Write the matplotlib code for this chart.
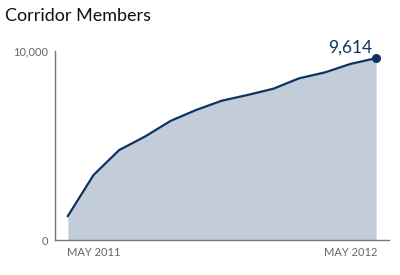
import matplotlib
matplotlib.use("Agg")
import matplotlib.pyplot as plt

months = list(range(13))
members = [1270, 3440, 4760, 5470, 6300, 6880, 7370, 7670, 8000, 8550, 8860, 9310, 9614]
x_labels = ["MAY 2011", "MAY 2012"]
y_ticks = [0, 10000]
y_tick_labels = ["0", "10,000"]

navy = "#0d3364"
fill = "#c2cdd9"
grey = "#666666"

plt.rcParams["font.family"] = ["Lato", "DejaVu Sans"]

fig = plt.figure(figsize=(4, 2.75), dpi=100)
ax = fig.add_axes([0.1375, 0.127, 0.835, 0.688])

ax.fill_between(months, members, 0, color=fill, lw=0)
ax.plot(months, members, color=navy, lw=1.6, solid_joinstyle="round")
ax.plot(months[-1], members[-1], "o", color=navy, ms=5.5)
ax.annotate(f"{members[-1]:,}", (months[-1], members[-1]), xytext=(-3, 2),
            textcoords="offset points", ha="right", va="bottom",
            color=navy, fontsize=12.5)

ax.set_xlim(-0.5, 12.5)
ax.set_ylim(0, 10000)
ax.set_yticks(y_ticks)
ax.set_yticklabels(y_tick_labels)
ax.set_xticks([])
for sp in ("top", "right"):
    ax.spines[sp].set_visible(False)
for sp in ("left", "bottom"):
    ax.spines[sp].set_color("#777777")
    ax.spines[sp].set_linewidth(1)
ax.tick_params(axis="y", length=0, pad=5, labelsize=8, labelcolor=grey)

ax.text(months[0] - 0.05, -0.035, x_labels[0], transform=ax.get_xaxis_transform(),
        ha="left", va="top", fontsize=8, color=grey)
ax.text(months[-1] + 0.05, -0.035, x_labels[1], transform=ax.get_xaxis_transform(),
        ha="right", va="top", fontsize=8, color=grey)

fig.text(0.0125, 0.97, "Corridor Members", ha="left", va="top", fontsize=13, color="#111111")

fig.savefig("out.png", dpi=100)
